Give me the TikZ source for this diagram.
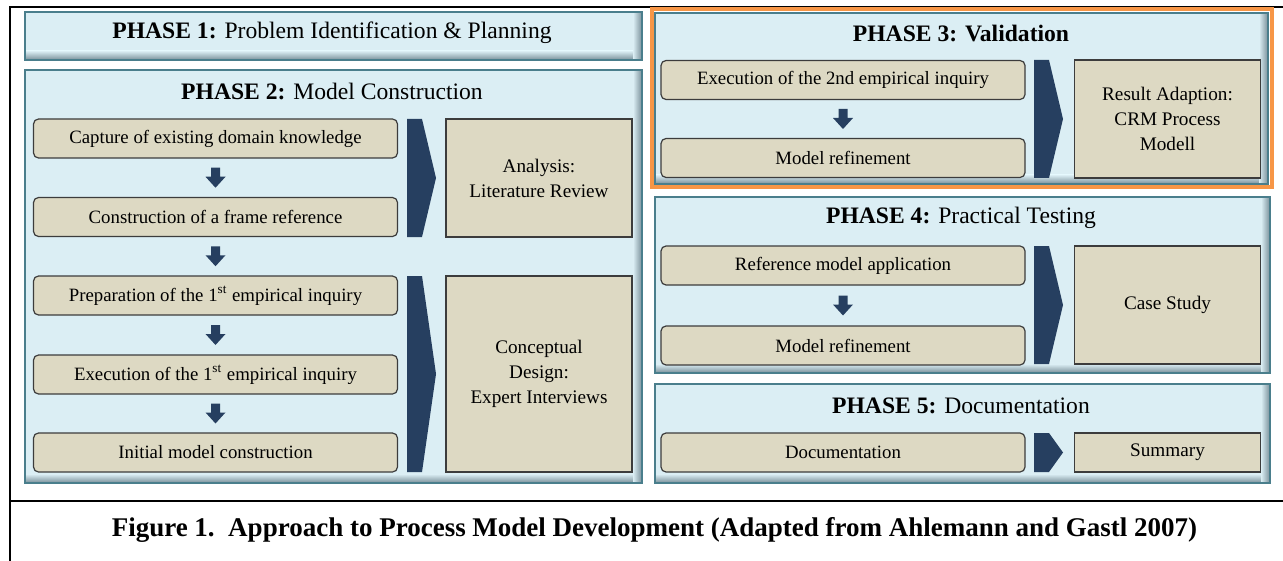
\documentclass[tikz,border=0pt]{standalone}
\usepackage{fontspec}
\setmainfont{Liberation Serif}
\usetikzlibrary{calc}

\definecolor{phasefill}{RGB}{219,238,244}
\definecolor{phaseline}{RGB}{74,126,140}
\definecolor{phaseshade}{RGB}{120,142,152}
\definecolor{tanfill}{RGB}{221,217,195}
\definecolor{stepline}{RGB}{60,60,60}
\definecolor{navy}{RGB}{38,63,96}
\definecolor{validorange}{RGB}{247,150,70}

% light blue panel with a soft bevel on the bottom and right edge
\newcommand\phasebox[4]{%
  \fill[phasefill] (#1,#2) rectangle (#3,#4);
  \shade[top color=phasefill, bottom color=phaseshade] (#1,#4-9) rectangle (#3,#4);
  \shade[left color=phasefill, right color=phaseshade] (#3-9,#2) rectangle (#3,#4);
  \draw[phaseline, line width=0.8pt] (#1,#2) rectangle (#3,#4);
}
% chevron between the step column and the result box
\newcommand\chevron[3]{%
  \fill[navy] (#1,#2) -- (#1+15,#2) -- (#1+29,{(#2+#3)/2}) -- (#1+15,#3) -- (#1,#3) -- cycle;
}
% small block arrow pointing down
\newcommand\dnarrow[1]{%
  \fill[navy] ($(#1)+(-4.5,-10)$) -- ++(9,0) -- ++(0,9) -- ++(5.5,0) -- ++(-10,11)
    -- ++(-10,-11) -- ++(5.5,0) -- cycle;
}

\tikzset{
  title/.style={font=\fontsize{11.8}{14}\selectfont, inner sep=0pt},
  stepbox/.style={draw=stepline, fill=tanfill, rounded corners=2.5pt, line width=0.6pt,
    minimum width=182pt, minimum height=19.5pt, inner sep=0pt,
    font=\fontsize{9.4}{11}\selectfont},
  resultbox/.style={draw=stepline, fill=tanfill, line width=0.6pt,
    minimum width=93pt, inner sep=0pt, align=center,
    font=\fontsize{9.6}{12.5}\selectfont},
}

\begin{document}
\begin{tikzpicture}[x=0.5pt,y=-0.5pt]
  \useasboundingbox (0,0) rectangle (1283,561);
  \fill[white] (0,0) rectangle (1283,561);

  % frame and caption rule
  \draw[line width=1pt] (10,561) -- (10,7) -- (1283,7);
  \draw[line width=1pt] (10,501) -- (1283,501);

  % phase panels
  \phasebox{25}{12}{642}{60}
  \phasebox{25}{70}{642}{483}
  \draw[validorange, line width=2pt] (651.5,9.5) rectangle (1271.5,187.5);
  \phasebox{655}{13}{1268}{184}
  \phasebox{655}{197}{1270}{373}
  \phasebox{655}{384}{1270}{483}

  \node[title] (p1) at (332,33) {\textbf{PHASE 1:} Problem Identification \& Planning};
  \node[title] (p2) at (332,91) {\textbf{PHASE 2:} Model Construction};
  \node[title] (p3) at (961,33) {\textbf{PHASE 3: Validation}};
  \node[title] (p4) at (961,218) {\textbf{PHASE 4:} Practical Testing};
  \node[title] (p5) at (961,406) {\textbf{PHASE 5:} Documentation};

  % phase 2
  \node[stepbox] (cap) at (215.5,138.5) {Capture of existing domain knowledge};
  \node[stepbox] (frm) at (215.5,217) {Construction of a frame reference};
  \node[stepbox] (prep) at (215.5,295.5) {Preparation of the 1\textsuperscript{st} empirical inquiry};
  \node[stepbox] (exe1) at (215.5,374.5) {Execution of the 1\textsuperscript{st} empirical inquiry};
  \node[stepbox] (init) at (215.5,452.5) {Initial model construction};
  \dnarrow{$(cap.south)!0.5!(frm.north)$}
  \dnarrow{$(frm.south)!0.5!(prep.north)$}
  \dnarrow{$(prep.south)!0.5!(exe1.north)$}
  \dnarrow{$(exe1.south)!0.5!(init.north)$}
  \chevron{407}{119}{237}
  \chevron{407}{276}{472}
  \node[resultbox, minimum height=59pt] (ana) at (539,178) {Analysis:\\Literature Review};
  \node[resultbox, minimum height=98pt] (con) at (539,374) {Conceptual\\Design:\\Expert Interviews};

  % phase 3
  \node[stepbox] (exe2) at (843,80) {Execution of the 2nd empirical inquiry};
  \node[stepbox] (ref1) at (843,158) {Model refinement};
  \dnarrow{$(exe2.south)!0.5!(ref1.north)$}
  \chevron{1034}{60}{178}
  \node[resultbox, minimum height=59pt] (res) at (1167.5,119) {Result Adaption:\\CRM Process\\Modell};

  % phase 4
  \node[stepbox] (app) at (843,265.5) {Reference model application};
  \node[stepbox] (ref2) at (843,345.5) {Model refinement};
  \dnarrow{$(app.south)!0.5!(ref2.north)$}
  \chevron{1034}{246}{364}
  \node[resultbox, minimum height=59pt] (case) at (1167.5,305) {Case Study};

  % phase 5
  \node[stepbox] (doc) at (843,452.5) {Documentation};
  \chevron{1034}{433}{472}
  \node[resultbox, minimum height=19.5pt] (sum) at (1167.5,452.5) {Summary};

  \node[font=\fontsize{13.5}{16}\selectfont\bfseries] (cap1) at (654.5,530)
    {Figure 1.\ \ Approach to Process Model Development (Adapted from Ahlemann and Gastl 2007)};
\end{tikzpicture}
\end{document}
